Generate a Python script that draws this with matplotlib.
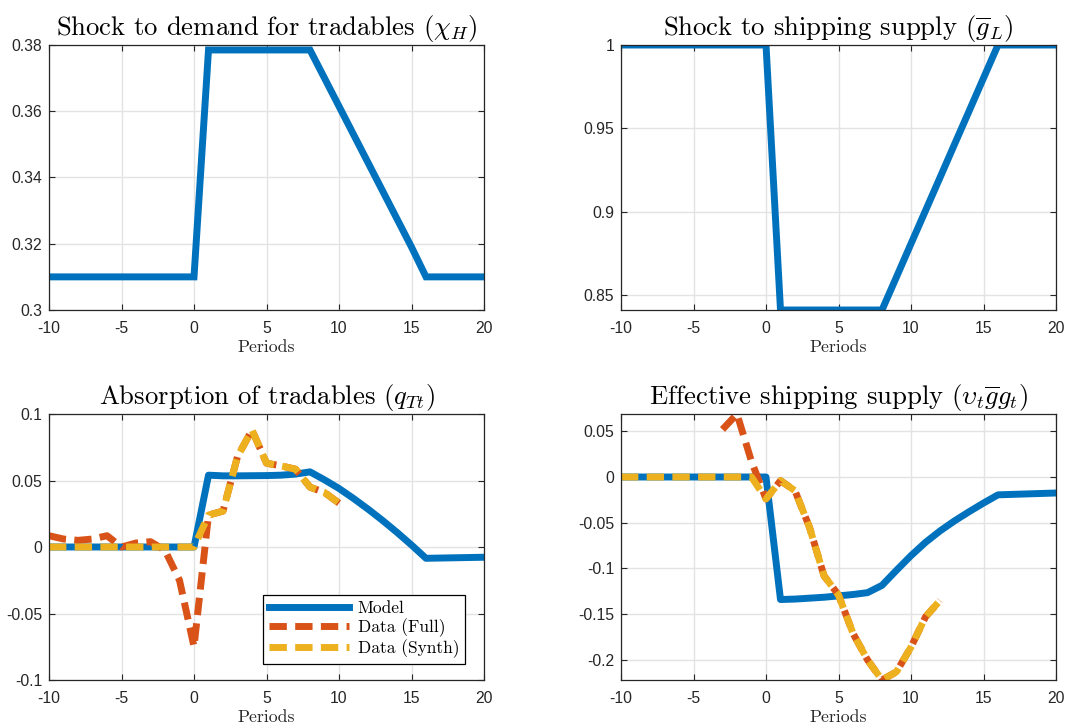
import matplotlib
matplotlib.use("Agg")
import matplotlib.pyplot as plt
from matplotlib.ticker import FuncFormatter, FixedLocator

plt.rcParams['mathtext.fontset'] = 'cm'
plt.rcParams['axes.unicode_minus'] = False

# ---------------- data ----------------
periods = list(range(-10, 21))

chi_H = [0.31]*11 + [0.3785]*8 + [0.3700, 0.3615, 0.3530, 0.3445, 0.3360, 0.3275,
                                   0.3190, 0.3100] + [0.31]*4

g_L = [1.0]*11 + [0.8413]*8 + [0.8611, 0.8810, 0.9008, 0.9206, 0.9405, 0.9603,
                               0.9802, 1.0] + [1.0]*4

q_model = [0.0]*11 + [0.0540, 0.0535, 0.0535, 0.0536, 0.0537, 0.0540, 0.0548,
                      0.0565, 0.0505, 0.0440, 0.0365, 0.0285, 0.0200, 0.0110,
                      0.0015, -0.0085, -0.0083, -0.0081, -0.0079, -0.0077]

data_periods_q = list(range(-10, 11))
q_full = [0.0085, 0.0060, 0.0050, 0.0060, 0.0085, 0.0000, 0.0030, 0.0040, -0.0025,
          -0.0250, -0.0750, 0.0240, 0.0270, 0.0680, 0.0880, 0.0630, 0.0610,
          0.0585, 0.0450, 0.0410, 0.0330]
q_synth = [0.0]*11 + [0.0240, 0.0270, 0.0680, 0.0880, 0.0630, 0.0610, 0.0585,
                      0.0450, 0.0410, 0.0330]

g_model = [0.0]*11 + [-0.1340, -0.1335, -0.1325, -0.1315, -0.1300, -0.1285,
                      -0.1265, -0.1185, -0.1020, -0.0860, -0.0715, -0.0590,
                      -0.0480, -0.0380, -0.0285, -0.0195, -0.0190, -0.0185,
                      -0.0180, -0.0175]

full_periods_g = list(range(-3, 13))
g_full = [0.0520, 0.0689, 0.0170, -0.0240, -0.0040, -0.0150, -0.0550, -0.1080,
          -0.1290, -0.1710, -0.2000, -0.2220, -0.2130, -0.1860, -0.1530, -0.1350]
synth_periods_g = list(range(-10, 13))
g_synth = [0.0]*10 + [-0.0240, -0.0040, -0.0150, -0.0550, -0.1080, -0.1290,
                      -0.1710, -0.2000, -0.2220, -0.2130, -0.1860, -0.1530, -0.1350]

titles = [r'Shock to demand for tradables ($\chi_H$)',
          r'Shock to shipping supply ($\overline{g}_L$)',
          r'Absorption of tradables ($q_{Tt}$)',
          r'Effective shipping supply ($\upsilon_t\overline{g}g_t$)']
xticks = [-10, -5, 0, 5, 10, 15, 20]
yticks = [[0.30, 0.32, 0.34, 0.36, 0.38],
          [0.85, 0.90, 0.95, 1.00],
          [-0.10, -0.05, 0.0, 0.05, 0.10],
          [-0.20, -0.15, -0.10, -0.05, 0.0, 0.05]]
ylims = [(0.30, 0.38), (0.8413, 1.0), (-0.10, 0.10), (-0.222, 0.0689)]
legend_labels = ['Model', 'Data (Full)', 'Data (Synth)']

# ---------------- style ----------------
C_BLUE = '#0072BD'
C_RED = '#D95319'
C_YEL = '#EDB120'
LW = 5.0
DASH = (2.5, 1.2)
TXT = '#262626'

fig = plt.figure(figsize=(10.65, 7.26), dpi=100)
W, H = 1065, 726
boxes = [(49, 45, 484, 310), (621, 45, 1056, 310),
         (49, 414, 484, 680), (621, 414, 1056, 680)]
axes = []
for (l, t, r, b) in boxes:
    axes.append(fig.add_axes([l/W, 1 - b/H, (r - l)/W, (b - t)/H]))

fmt = FuncFormatter(lambda v, p: ('%g' % round(v, 6)) if abs(v) > 1e-12 else '0')

for i, ax in enumerate(axes):
    ax.set_xlim(-10, 20)
    ax.set_ylim(*ylims[i])
    ax.xaxis.set_major_locator(FixedLocator(xticks))
    ax.yaxis.set_major_locator(FixedLocator(yticks[i]))
    ax.xaxis.set_major_formatter(fmt)
    ax.yaxis.set_major_formatter(fmt)
    ax.grid(True, color='#e3e3e3', linewidth=1.0)
    ax.set_axisbelow(True)
    ax.tick_params(direction='in', length=4, width=0.8, top=True, right=True,
                   colors=TXT, labelsize=11.3)
    ax.tick_params(axis='x', pad=8)
    ax.tick_params(axis='y', pad=5)
    for lab in ax.get_xticklabels() + ax.get_yticklabels():
        lab.set_fontfamily('Liberation Sans')
    for s in ax.spines.values():
        s.set_color(TXT)
        s.set_linewidth(0.9)
    ax.set_title(titles[i], fontfamily='cmr10', fontsize=19.2, pad=7, color='black')
    ax.set_xlabel('Periods', fontfamily='cmr10', fontsize=12.8, labelpad=2.5, color=TXT)

axes[0].plot(periods, chi_H, color=C_BLUE, lw=LW, solid_joinstyle='miter')
axes[1].plot(periods, g_L, color=C_BLUE, lw=LW, solid_joinstyle='miter')

ax = axes[2]
h1, = ax.plot(periods, q_model, color=C_BLUE, lw=LW, label=legend_labels[0])
h2, = ax.plot(data_periods_q, q_full, color=C_RED, lw=LW, dashes=DASH,
              dash_capstyle='butt', label=legend_labels[1])
h3, = ax.plot(data_periods_q, q_synth, color=C_YEL, lw=LW, dashes=DASH,
              dash_capstyle='butt', label=legend_labels[2])
leg = ax.legend(handles=[h1, h2, h3], loc='lower right',
                bbox_to_anchor=(0.957, 0.06), borderaxespad=0,
                prop={'family': 'cmr10', 'size': 12.5}, handlelength=4.6,
                handletextpad=0.5, labelspacing=0.12, borderpad=0.35,
                fancybox=False, framealpha=1, edgecolor='black')
leg.get_frame().set_linewidth(0.9)

ax = axes[3]
ax.plot(periods, g_model, color=C_BLUE, lw=LW)
ax.plot(full_periods_g, g_full, color=C_RED, lw=LW, dashes=DASH, dash_capstyle='butt')
ax.plot(synth_periods_g, g_synth, color=C_YEL, lw=LW, dashes=DASH, dash_capstyle='butt')

fig.savefig('out.png', dpi=100)
